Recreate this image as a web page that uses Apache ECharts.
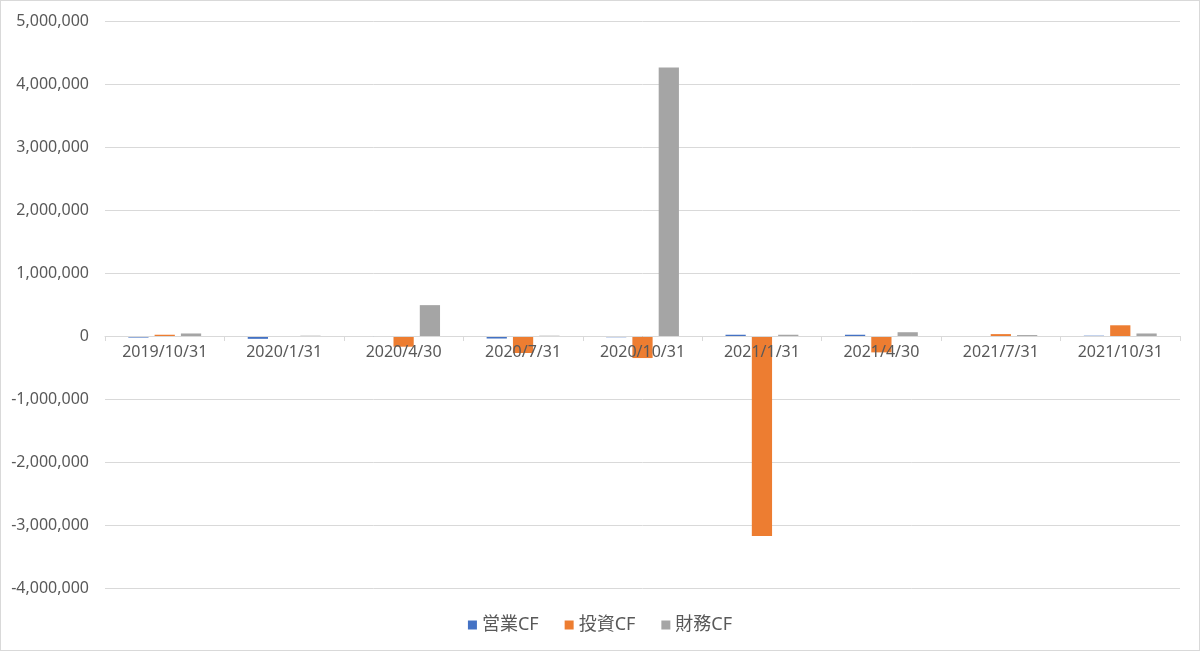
<!DOCTYPE html>
<html>
<head>
<meta charset="utf-8">
<script src="https://cdn.jsdelivr.net/npm/echarts@6/dist/echarts.min.js"></script>
<style>
html,body{margin:0;padding:0;background:#fff;}
#c{width:1198px;height:649px;border:1px solid #d9d9d9;}
</style>
</head>
<body>
<div id="c"></div>
<script>
const categories = ['2019/10/31','2020/1/31','2020/4/30','2020/7/31','2020/10/31','2021/1/31','2021/4/30','2021/7/31','2021/10/31'];
const operatingCF = [-25000, -45000, -5000, -40000, -20000, 20000, 20000, -5000, 5000];
const investingCF = [20000, -5000, -170000, -270000, -350000, -3175000, -260000, 30000, 170000];
const financingCF = [40000, 5000, 490000, 5000, 4260000, 20000, 60000, 15000, 40000];
const seriesNames = ['営業CF','投資CF','財務CF'];
const colors = ['#4472C4','#ED7D31','#A5A5A5'];
const yMin = -4000000, yMax = 5000000;

const font = '"Noto Sans","Noto Sans CJK JP",sans-serif';
const gridTop = 20, gridBottom = 62, chartH = 649;
const plotH = chartH - gridTop - gridBottom;
const zeroOffset = -plotH * (-yMin) / (yMax - yMin);

const chart = echarts.init(document.getElementById('c'));
chart.setOption({
  animation: false,
  textStyle: {fontFamily: font},
  color: colors,
  grid: {left: 104, right: 19, top: gridTop, bottom: gridBottom},
  legend: {
    top: 610, left: 'center', itemWidth: 9, itemHeight: 9, itemGap: 26,
    icon: 'rect',
    textStyle: {color: '#595959', fontSize: 18, fontFamily: font},
    data: seriesNames
  },
  xAxis: {
    type: 'category', data: categories, position: 'bottom', offset: zeroOffset, z: 5,
    axisLine: {onZero: false, lineStyle: {color: '#d9d9d9'}},
    axisTick: {show: true, length: 5, lineStyle: {color: '#d9d9d9'}},
    axisLabel: {color: '#595959', fontSize: 16, margin: 8, fontFamily: font},
    splitLine: {show: false}
  },
  yAxis: {
    type: 'value', min: yMin, max: yMax, interval: 1000000,
    axisLine: {show: false}, axisTick: {show: false},
    axisLabel: {color: '#595959', fontSize: 16, margin: 16, fontFamily: font,
      formatter: v => v.toLocaleString('en-US')},
    splitLine: {lineStyle: {color: '#d9d9d9'}}
  },
  series: [
    {name: seriesNames[0], type: 'bar', data: operatingCF, barGap: '30%', barCategoryGap: '39%'},
    {name: seriesNames[1], type: 'bar', data: investingCF},
    {name: seriesNames[2], type: 'bar', data: financingCF}
  ]
});
</script>
</body>
</html>
